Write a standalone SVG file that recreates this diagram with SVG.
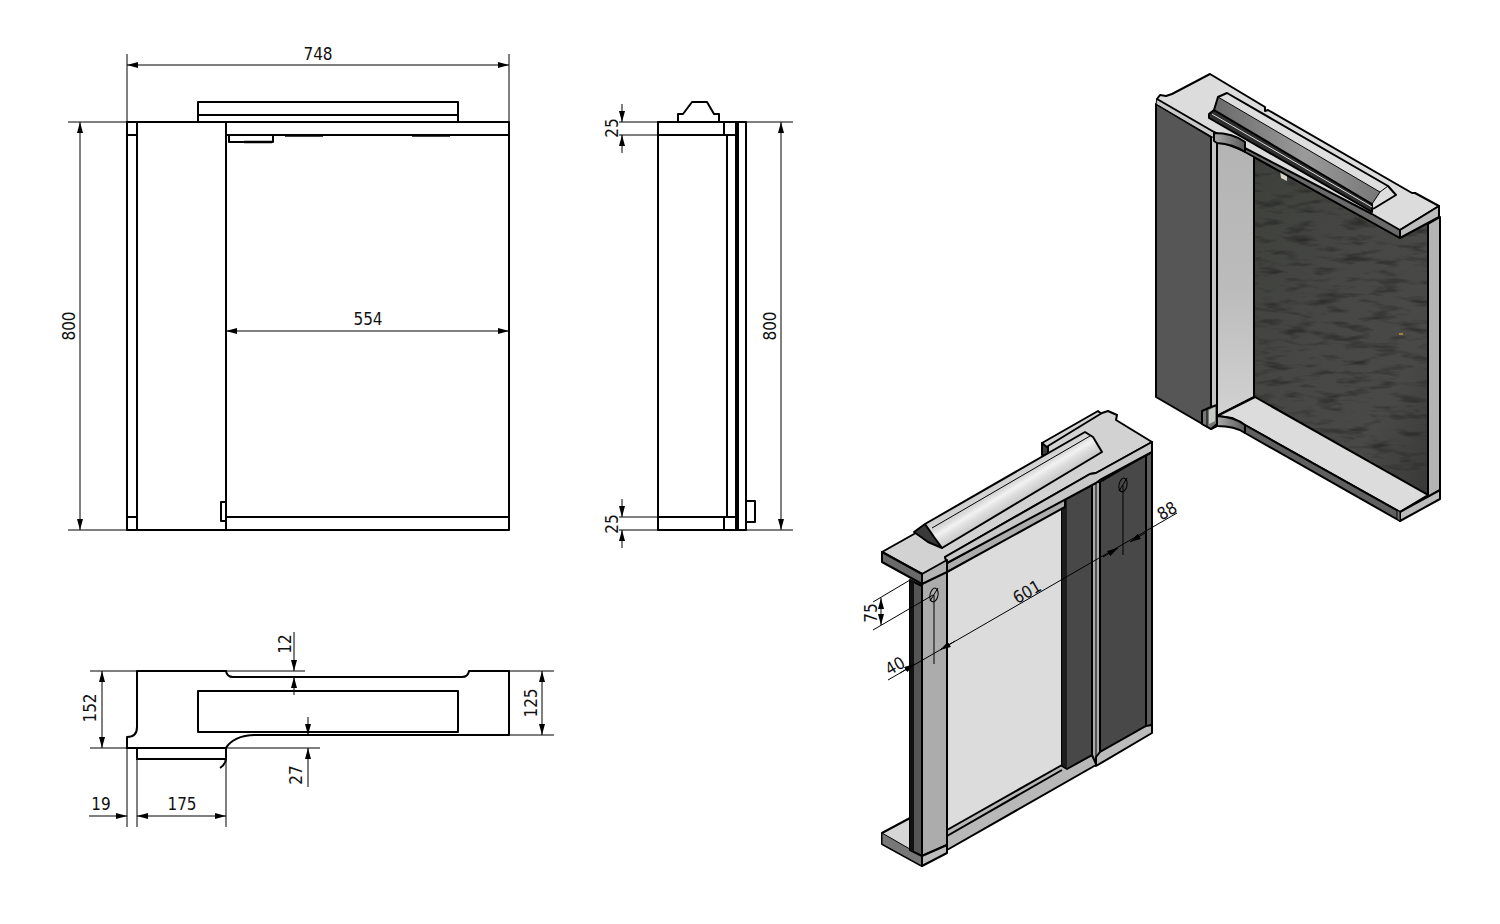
<svg xmlns="http://www.w3.org/2000/svg" width="1500" height="924" viewBox="0 0 1500 924">
<style>
text{font-family:"DejaVu Sans Condensed","DejaVu Sans",sans-serif;font-stretch:condensed;font-size:17px;fill:#111;text-anchor:middle}
.o{fill:none;stroke:#000;stroke-width:2;stroke-linejoin:round}
.t{fill:none;stroke:#000;stroke-width:1}
.d{fill:none;stroke:#000;stroke-width:1;marker-end:url(#a)}
.i{stroke:#000;stroke-width:2;stroke-linejoin:round}
.f{stroke:#000;stroke-width:1;stroke-linejoin:round}
</style>
<defs>
<marker id="a" viewBox="0 0 11 6" refX="11" refY="3" markerWidth="11" markerHeight="6" markerUnits="userSpaceOnUse" orient="auto"><path d="M0 0L11 3L0 6z" fill="#000"/></marker>
<linearGradient id="mir" x1="0" y1="0" x2="1" y2="1"><stop offset="0" stop-color="#3e403b"/><stop offset=".45" stop-color="#474845"/><stop offset=".75" stop-color="#494947"/><stop offset="1" stop-color="#383836"/></linearGradient>
<linearGradient id="il" x1="0" y1="0" x2="0" y2="1"><stop offset="0" stop-color="#b4b4b4"/><stop offset=".55" stop-color="#bcbcbc"/><stop offset="1" stop-color="#d2d2d2"/></linearGradient>
<linearGradient id="lip" x1="0" y1="0" x2="1" y2="0"><stop offset="0" stop-color="#aaa"/><stop offset="1" stop-color="#5a5a5a"/></linearGradient>
<linearGradient id="cr" gradientUnits="userSpaceOnUse" x1="1005" y1="478" x2="1019" y2="501"><stop offset="0" stop-color="#cfcfcf"/><stop offset=".3" stop-color="#d8d8d8"/><stop offset=".5" stop-color="#f2f2f2"/><stop offset=".7" stop-color="#dedede"/><stop offset="1" stop-color="#cacaca"/></linearGradient>
<linearGradient id="sl" x1="0" y1="0" x2="1" y2="0"><stop offset="0" stop-color="#6a6a6a"/><stop offset=".55" stop-color="#9a9a9a"/><stop offset="1" stop-color="#777"/></linearGradient>
<filter id="mottle" x="0" y="0" width="100%" height="100%" color-interpolation-filters="sRGB">
<feTurbulence type="fractalNoise" baseFrequency="0.035 0.14" numOctaves="3" seed="7"/>
<feColorMatrix type="matrix" values="0 0 0 0 0.11  0 0 0 0 0.11  0 0 0 0 0.10  3 0 0 0 -1.500"/>
<feComposite in2="SourceAlpha" operator="in"/>
</filter>
</defs>

<g id="front-view">
<path class="o" d="M127 122H509V530H127ZM137 122V530M226 122V530M127 135H137M127 517H137M226 135H509M226 517H509"/>
<path class="o" d="M198 122V102H458V122M198 115H458"/>
<path class="o" d="M229 136V142H264M264 142H273V136"/>
<path d="M244 142H272M285 135.500H323M412 135.500H450" stroke="#000" stroke-width="2.500" fill="none"/>
<path class="o" d="M226 502H221V521H226"/>
</g>

<g id="side-view">
<path class="o" d="M658 122H746V530H658ZM658 135H724M658 517H724M724 122V135M724 517V530M727 135V517M736 122V530M738 122V530M724 135H736M724 517H736"/>
<path class="o" d="M678 122V114H683L692 102H707L714 114H719V122"/>
<path class="o" d="M746 501H755V522H746"/>
</g>

<g id="plan-view">
<path class="o" d="M137 671H226Q227 677 233 677H462Q468 677 469 671H509V735H255C240 735 230 741 226 748H127V737Q137 737 137 727Z"/>
<rect class="o" x="198" y="691" width="260" height="41"/>
<path class="o" d="M137 749V759H226V749M226 759Q225 765 220 768"/>
</g>

<g id="iso-upper">
<polygon class="i" fill="#565656" points="1156,104 1211,137 1211,429 1156,397"/>
<polygon class="i" fill="#c4c4c4" points="1211,135 1217,138 1217,426 1211,429"/>
<polygon class="i" fill="url(#il)" points="1217,140 1254,155 1254,397 1217,416"/>
<polygon class="i" fill="url(#mir)" points="1254,157 1400,238 1428,222 1428,495 1254,397"/>
<polygon fill="#000" opacity=".55" filter="url(#mottle)" points="1255,160 1400,240 1427,224 1427,493 1255,396"/>
<polygon fill="#d8d4c8" points="1280,171 1287,174 1287,181 1281,178"/>
<rect x="1399" y="333" width="4" height="2" fill="#a8803c"/>
<polygon class="i" fill="#b4b4b4" points="1428,224 1440,217 1440,490 1428,497"/>
<polygon class="i" fill="#dcdcdc" points="1217,416 1255,397 1428,495 1400,512 1245,425 1232,418"/>
<polygon class="i" fill="#606060" points="1245,425 1400,512 1400,521 1245,433"/>
<path class="i" fill="url(#lip)" d="M1217 416Q1235 417 1245 425V433Q1235 426 1217 426Z"/>
<polygon class="i" fill="#bcbcbc" points="1400,512 1440,490 1440,499 1400,521"/>
<polygon class="f" fill="#777" points="1400,512 1397,510 1397,519 1400,521"/>
<polygon class="i" fill="#777" points="1202,411 1211,407 1217,405 1217,424 1211,429 1202,424"/>
<polygon fill="#c4ccc4" points="1209,410 1215,407 1215,421 1209,424"/>
<path class="t" d="M1207 409V426"/>
<polygon class="f" fill="#c8c8c8" points="1157,98 1214,131 1214,138 1156,104"/>
<polygon class="i" fill="#6a6a6a" points="1245,142 1372,210 1400,230 1400,238 1245,152"/>
<polygon class="i" fill="#dcdcdc" points="1157,99 1160,95 1166,96 1172,94 1210,74 1265,107 1265,111 1268,110 1412,193 1415,193 1439,206 1400,230 1372,214 1214,132"/>
<polygon class="i" fill="#bdbdbd" points="1400,230 1439,206 1439,217 1400,238"/>
<path class="i" fill="url(#lip)" d="M1214 133Q1233 133 1245 142V152Q1233 144 1217 143L1214 141Z"/>
<polygon fill="url(#sl)" points="1218,97 1380,192 1372,206 1214,110"/>
<polygon fill="#dedede" points="1218,97 1227,93 1388,187 1380,192"/>
<polygon fill="#dedede" points="1380,192 1388,186 1396,195 1373,209 1372,204"/>
<polygon class="i" fill="#2e2e2e" points="1214,110 1372,204 1372,212 1209,118 1209,114"/>
<path d="M1212 114L1372 207" stroke="#ddd" stroke-width="1" fill="none"/>
<path class="o" d="M1214 110L1218 97L1227 93L1388 186L1396 195L1373 209"/>
<path class="t" d="M1218 97L1380 192L1372 204M1380 192L1388 186"/>
</g>

<g id="iso-lower">
<polygon class="i" fill="#d6d6d6" points="882,833 910,818 910,850 922,856 922,866 882,844"/>
<polygon class="f" fill="#777" points="882,833 922,856 922,866 882,844"/>
<polygon class="i" fill="#dcdcdc" points="947,572 1065,505 1065,770 947,832"/>
<polygon class="i" fill="#b8b8b8" points="947,830 1062,765 1067,768 1092,755 1096,757 1096,765 947,850"/>
<path class="o" d="M947 836L1062 770"/>
<polygon class="i" fill="#484848" points="1062,497 1092,480 1092,755 1067,769 1062,766"/>
<polygon fill="#1c1c1c" points="1062,500 1067,497 1067,768 1062,765"/>
<polygon class="i" fill="#aaa" points="1092,480 1096,482 1100,482 1100,752 1096,764 1092,755"/>
<polygon class="i" fill="#484848" points="1100,482 1146,455 1146,726 1100,752"/>
<polygon class="i" fill="#5c5c5c" points="1146,455 1152,452 1152,725 1146,727"/>
<polygon class="i" fill="#bcbcbc" points="1096,757 1100,752 1146,726 1152,725 1152,733 1096,766"/>
<polygon class="i" fill="#555" points="910,580 922,586 922,856 910,850"/>
<polygon fill="#111" points="910,580 914,582 914,852 910,850"/>
<polygon class="i" fill="#acacac" points="922,584 947,570 947,845 922,856"/>
<polygon class="i" fill="#bdbdbd" points="922,856 947,845 947,853 922,866"/>
<polygon class="i" fill="#adadad" points="947,563 1065,498 1065,507 947,572"/>
<polygon class="i" fill="#3c3c3c" points="1042,443 1048,446 1048,456 1042,455"/>
<polygon class="i" fill="#d4d4d4" points="1042,443 1098,411 1104,416 1048,448"/>
<polygon class="i" fill="#d2d2d2" points="882,552 914,534 1048,456 1048,446 1102,413 1108,411 1117,415 1116,420 1152,442 1096,473 1090,474 945,557 947,563 947,572 922,574"/>
<polygon class="i" fill="#c8c8c8" points="947,563 945,557 1090,474 1096,473 1152,442 1152,452 1100,480 1096,483"/>
<polygon class="i" fill="#b4b4b4" points="922,574 947,560 947,572 922,584"/>
<polygon class="i" fill="#6a6a6a" points="882,552 922,574 922,584 882,562"/>
<polygon fill="url(#cr)" points="934,537 925,524 1085,432 1093,437 1102,452 942,548"/>
<polygon class="i" fill="#3a3a3a" points="914,532 925,524 934,537 942,548 928,542"/>
<path class="t" d="M932 528L1090 436"/>
<path class="o" d="M925 524L1085 432L1093 437L1102 452L942 548"/>
<path class="t" d="M1096 483V765"/>
</g>

<g id="dimensions">
<path class="t" d="M127 54V122M509 54V122M68 122H127M68 530H127"/>
<path class="d" d="M318 65H127"/><path class="d" d="M318 65H509"/>
<path class="d" d="M80 326V122"/><path class="d" d="M80 326V530"/>
<path class="d" d="M368 331H226"/><path class="d" d="M368 331H509"/>

<path class="t" d="M619 122H793M619 135H658M619 517H658M619 530H793"/>
<path class="d" d="M622 104V122"/><path class="d" d="M622 153V135"/>
<path class="d" d="M622 499V517"/><path class="d" d="M622 548V530"/>
<path class="d" d="M781 326V122"/><path class="d" d="M781 326V530"/>

<path class="t" d="M90 671H305M90 748H320M509 671H554M509 735H554M127 748V827M137 748V827M226 748V827"/>
<path class="d" d="M102 710V671"/><path class="d" d="M102 710V748"/>
<path class="d" d="M542 703V671"/><path class="d" d="M542 703V735"/>
<path class="d" d="M294 632V671"/><path class="d" d="M294 695V677"/>
<path class="d" d="M308 717V735"/><path class="d" d="M308 787V748"/>
<path class="d" d="M89 816H127"/><path class="d" d="M181 816H137"/><path class="d" d="M181 816H226"/>

<ellipse class="t" cx="934" cy="595" rx="4" ry="7" transform="rotate(12 934 595)" stroke-width="1.500"/>
<ellipse class="t" cx="1123" cy="485" rx="4" ry="7" transform="rotate(12 1123 485)" stroke-width="1.500"/>
<path class="t" d="M930 601L938 588M1119 491L1127 478M934 595V664M1123 485V555M873 630L933 595M873 602L910 580"/>
<path class="t" d="M888 680L1177 513"/>
<path class="d" d="M881 612V598"/><path class="d" d="M881 612V625"/>
<path class="d" d="M900 673L915 664"/><path class="d" d="M955 641L940 650"/>
<path class="d" d="M1103 557L1118 548"/><path class="d" d="M1145 533L1130 542"/>
</g>

<g id="labels">
<text x="318" y="60">748</text>
<text x="368" y="325">554</text>
<text transform="translate(75 326) rotate(-90)">800</text>
<text transform="translate(776 326) rotate(-90)">800</text>
<text transform="translate(618 128) rotate(-90)">25</text>
<text transform="translate(618 524) rotate(-90)">25</text>
<text transform="translate(96 708) rotate(-90)">152</text>
<text transform="translate(537 703) rotate(-90)">125</text>
<text transform="translate(291 644) rotate(-90)">12</text>
<text transform="translate(302 775) rotate(-90)">27</text>
<text x="101" y="810">19</text>
<text x="182" y="810">175</text>
<text transform="translate(877 613) rotate(-90)">75</text>
<text transform="translate(898 671) rotate(-30)">40</text>
<text transform="translate(1030 597) rotate(-30)">601</text>
<text transform="translate(1170 516) rotate(-30)">88</text>
</g>
</svg>
